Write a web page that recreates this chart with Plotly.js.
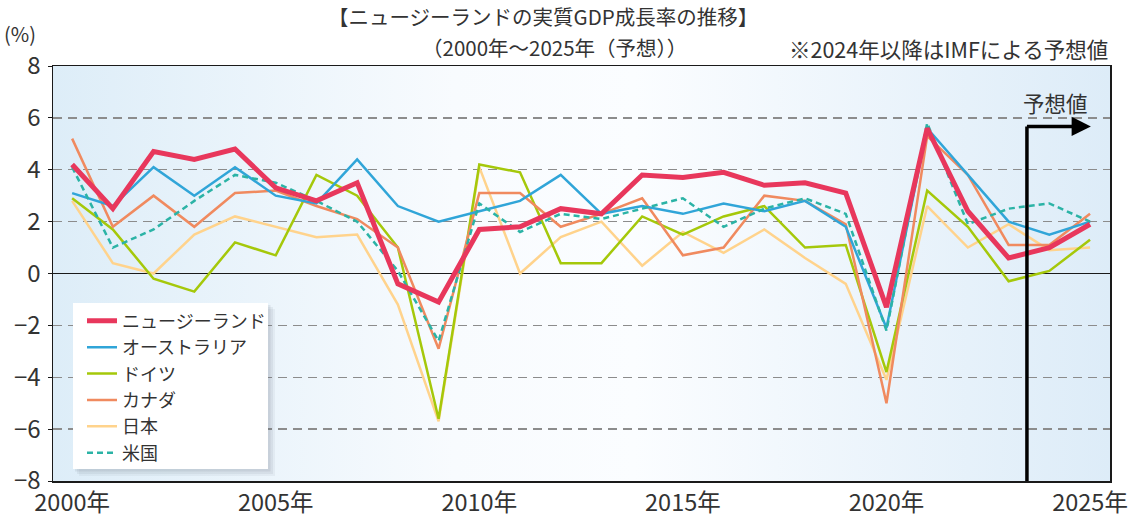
<!DOCTYPE html>
<html>
<head>
<meta charset="utf-8">
<script src="https://cdn.plot.ly/plotly-3.0.1.min.js"></script>
<style>
html,body{margin:0;padding:0;background:#fff;}
#chart{width:1136px;height:517px;}
</style>
</head>
<body>
<div id="chart"></div>
<script>
const years = [2000,2001,2002,2003,2004,2005,2006,2007,2008,2009,2010,2011,2012,2013,2014,2015,2016,2017,2018,2019,2020,2021,2022,2023,2024,2025];
const newZealand = [4.2,2.5,4.7,4.4,4.8,3.3,2.8,3.5,-0.4,-1.1,1.7,1.8,2.5,2.3,3.8,3.7,3.9,3.4,3.5,3.1,-1.3,5.6,2.4,0.6,1.0,1.9];
const australia  = [3.1,2.6,4.1,3.0,4.1,3.0,2.7,4.4,2.6,2.0,2.4,2.8,3.8,2.3,2.6,2.3,2.7,2.4,2.8,1.8,-2.1,5.6,3.8,2.0,1.5,2.0];
const germany    = [2.9,1.7,-0.2,-0.7,1.2,0.7,3.8,3.0,1.0,-5.6,4.2,3.9,0.4,0.4,2.2,1.5,2.2,2.6,1.0,1.1,-3.8,3.2,1.8,-0.3,0.1,1.3];
const canada     = [5.2,1.8,3.0,1.8,3.1,3.2,2.6,2.1,1.0,-2.9,3.1,3.1,1.8,2.3,2.9,0.7,1.0,3.0,2.8,1.9,-5.0,5.3,3.8,1.1,1.1,2.3];
const japan      = [2.8,0.4,0.0,1.5,2.2,1.8,1.4,1.5,-1.2,-5.7,4.1,0.0,1.4,2.0,0.3,1.6,0.8,1.7,0.6,-0.4,-4.1,2.6,1.0,1.9,0.9,1.0];
const unitedStates = [4.1,1.0,1.7,2.8,3.8,3.5,2.8,2.0,0.1,-2.6,2.7,1.6,2.3,2.1,2.5,2.9,1.8,2.5,2.9,2.3,-2.2,5.8,1.9,2.5,2.7,2.0];
const seriesNames = ['ニュージーランド','オーストラリア','ドイツ','カナダ','日本','米国'];
const xTickVals = [2000,2005,2010,2015,2020,2025];
const xTickText = ['2000年','2005年','2010年','2015年','2020年','2025年'];
const yTickVals = [-8,-6,-4,-2,0,2,4,6,8];
const forecastStart = 2023.45;

const FONT = '"Noto Sans CJK JP", "Noto Sans", sans-serif';
const TXT = '#333333';

function tr(name, y, color, width, dash, rank){
  return {type:'scatter', mode:'lines', x:years, y:y, name:name,
    line:{color:color, width:width, dash:dash||'solid'},
    legendrank:rank, hoverinfo:'skip'};
}
const data = [
  tr(seriesNames[4], japan, '#FFD38C', 2.5, null, 5),
  tr(seriesNames[2], germany, '#A5C80A', 2.5, null, 3),
  tr(seriesNames[3], canada, '#F08A5F', 2.5, null, 4),
  tr(seriesNames[1], australia, '#30A5D8', 2.5, null, 2),
  tr(seriesNames[5], unitedStates, '#2BB3A6', 2.5, '6px,4px', 6),
  tr(seriesNames[0], newZealand, '#E8375C', 5, null, 1)
];

const bgSvg = '<svg xmlns="http://www.w3.org/2000/svg" width="1000" height="400" preserveAspectRatio="none">'+
 '<defs><linearGradient id="g" x1="0" y1="0" x2="1" y2="0">'+
 '<stop offset="0" stop-color="#DDEDF8"/><stop offset="0.38" stop-color="#F8FBFE"/>'+
 '<stop offset="0.55" stop-color="#FBFDFF"/><stop offset="1" stop-color="#DDECF8"/>'+
 '</linearGradient></defs><rect width="1000" height="400" fill="url(#g)"/></svg>';
const bgUri = 'data:image/svg+xml;charset=utf-8,' + encodeURIComponent(bgSvg);

// legend box (paper coords of the plot area: 1057 x 415 px)
const PW = 1057, PH = 415;
const bx0 = 20/PW, bx1 = 215/PW, by0 = 12/PH, by1 = 178/PH;
function px(n){ return n/PW; }
function py(n){ return n/PH; }

const layout = {
  width:1136, height:517,
  margin:{l:53, r:26, t:66, b:36},
  paper_bgcolor:'#ffffff',
  plot_bgcolor:'rgba(0,0,0,0)',
  font:{family:FONT, color:TXT},
  showlegend:true,
  xaxis:{range:[1999.53,2025.49], tickvals:xTickVals, ticktext:xTickText,
    showgrid:false, zeroline:false, showline:true, mirror:true,
    linecolor:'#1a1a1a', linewidth:1.5, ticks:'', ticklabelstandoff:0,
    tickfont:{size:23.5, color:TXT, family:FONT}, fixedrange:true},
  yaxis:{range:[-8,8], tickvals:yTickVals, showgrid:true, gridcolor:'#8c8c8c',
    gridwidth:1.3, griddash:'9px,6px', zeroline:true, zerolinecolor:'#1a1a1a', zerolinewidth:1.5,
    showline:true, mirror:true, linecolor:'#1a1a1a', linewidth:1.5,
    ticks:'outside', ticklen:4, tickcolor:'#1a1a1a', ticklabelstandoff:2,
    tickfont:{size:24, color:TXT, family:FONT}, fixedrange:true},
  legend:{x:px(29), y:0.43, xanchor:'left', yanchor:'top',
    bgcolor:'rgba(0,0,0,0)', borderwidth:0, traceorder:'normal',
    font:{size:18, color:TXT, family:FONT}},
  images:[{source:bgUri, xref:'paper', yref:'paper', x:0, y:1, sizex:1, sizey:1,
    sizing:'stretch', layer:'below', xanchor:'left', yanchor:'top'}],
  shapes:[
    {type:'rect', xref:'paper', yref:'paper', x0:bx0+px(6), x1:bx1+px(7), y0:by0-py(7), y1:by1-py(6),
      fillcolor:'rgba(100,110,125,0.07)', line:{width:0}, layer:'above'},
    {type:'rect', xref:'paper', yref:'paper', x0:bx0+px(4), x1:bx1+px(5), y0:by0-py(5), y1:by1-py(4),
      fillcolor:'rgba(100,110,125,0.09)', line:{width:0}, layer:'above'},
    {type:'rect', xref:'paper', yref:'paper', x0:bx0+px(2), x1:bx1+px(2.5), y0:by0-py(2.5), y1:by1-py(2),
      fillcolor:'rgba(100,110,125,0.12)', line:{width:0}, layer:'above'},
    {type:'rect', xref:'paper', yref:'paper', x0:bx0, x1:bx1, y0:by0, y1:by1,
      fillcolor:'#ffffff', line:{width:0}, layer:'above'},
    {type:'line', xref:'x', yref:'y', x0:forecastStart, x1:forecastStart, y0:-8, y1:5.67,
      line:{color:'#000000', width:3.5}, layer:'above'},
    {type:'line', xref:'x', yref:'y', x0:forecastStart, x1:2024.75, y0:5.67, y1:5.67,
      line:{color:'#000000', width:3.5}, layer:'above'}
  ],
  annotations:[
    {x:0.4636, y:1, xref:'paper', yref:'paper', yshift:50, xanchor:'center', yanchor:'middle',
      text:'【ニュージーランドの実質GDP成長率の推移】', showarrow:false, borderpad:0,
      font:{size:20.5, color:TXT, family:FONT}},
    {x:0.4740, y:1, xref:'paper', yref:'paper', yshift:19, xanchor:'center', yanchor:'middle',
      text:'（2000年～2025年（予想））', showarrow:false, borderpad:0,
      font:{size:20.5, color:TXT, family:FONT}},
    {x:2025.02, y:5.67, ax:2024.6, ay:5.67, xref:'x', yref:'y', axref:'x', ayref:'y',
      showarrow:true, arrowhead:2, arrowsize:1.1, arrowwidth:3.5, arrowcolor:'#000000', text:''},
    {x:2024.15, y:6.6, xref:'x', yref:'y', text:'予想値', showarrow:false,
      font:{size:21.5, color:TXT, family:FONT}},
    {x:0, y:1, xref:'paper', yref:'paper', xshift:-50, yshift:33, xanchor:'left', yanchor:'middle',
      text:'(%)', showarrow:false, borderpad:0, font:{size:20, color:TXT, family:FONT}},
    {x:1, y:1, xref:'paper', yref:'paper', yshift:18, xanchor:'right', yanchor:'middle',
      text:'※2024年以降はIMFによる予想値', showarrow:false, font:{size:21.5, color:TXT, family:FONT}}
  ]
};

Plotly.newPlot('chart', data, layout, {displayModeBar:false, staticPlot:true});
</script>
</body>
</html>
